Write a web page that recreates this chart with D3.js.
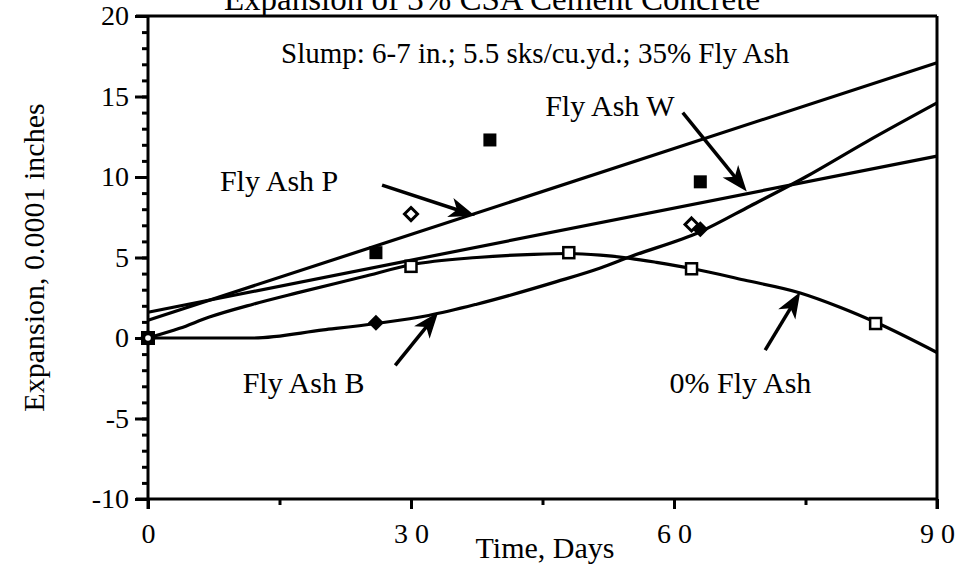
<!DOCTYPE html>
<html>
<head>
<meta charset="utf-8">
<script src="https://cdn.jsdelivr.net/npm/d3@7"></script>
<style>
  html, body { margin: 0; padding: 0; background: #fff; }
  svg { display: block; }
  text { font-family: "Liberation Serif", "Times New Roman", serif; fill: #000; }
</style>
</head>
<body>
<svg id="chart" width="955" height="569"></svg>
<script>
// ---- data -------------------------------------------------------------
const titleText = "Expansion of 3% CSA Cement Concrete";
const noteText = "Slump: 6-7 in.; 5.5 sks/cu.yd.; 35% Fly Ash";
const xLabel = "Time, Days";
const yLabel = "Expansion, 0.0001 inches";

const xTicks = [0, 30, 60, 90];
const xTickLabels = ["0", "3 0", "6 0", "9 0"];
const xMinorTicks = [15, 45, 75];
const yTicks = [-10, -5, 0, 5, 10, 15, 20];
const yTickLabels = ["-10", "-5", "0", "5", "10", "15", "20"];
const yMinorTicks = d3.range(-10, 21, 1);

// measured points (days, expansion)
const flyAshPDays = [0, 26, 39, 63];
const flyAshPValues = [0, 5.3, 12.3, 9.7];
const flyAshWDays = [0, 30, 62];
const flyAshWValues = [0, 7.7, 7.05];
const flyAshBDays = [0, 26, 63];
const flyAshBValues = [0, 0.95, 6.75];
const noAshDays = [0, 30, 48, 62, 83];
const noAshValues = [0, 4.45, 5.3, 4.3, 0.9];

// trend lines
const flyAshPLineDays = [0, 90];
const flyAshPLineValues = [1.1, 17.1];
const flyAshWLineDays = [0, 90];
const flyAshWLineValues = [1.6, 11.3];
const flyAshBCurveDays = [0, 12, 20, 26, 32, 37.5, 46.6, 51.6, 55, 63, 68.7, 75, 82, 90];
const flyAshBCurveValues = [0, 0, 0.5, 0.9, 1.4, 2.1, 3.5, 4.35, 5.05, 6.6, 8.2, 10.0, 12.2, 14.6];
const noAshCurveDays = [0, 3.6, 7, 12, 17, 24.5, 30, 37.5, 44, 48, 51.6, 55, 58, 62.2, 68, 74.4, 79, 83.2, 90];
const noAshCurveValues = [0, 0.6, 1.3, 2.1, 2.8, 3.8, 4.55, 5.0, 5.2, 5.25, 5.15, 4.95, 4.7, 4.3, 3.6, 2.8, 1.9, 0.93, -0.9];

// callouts: label, text anchor (days, value), arrow tail and tip (days, value)
const calloutLabels = ["Fly Ash P", "Fly Ash W", "Fly Ash B", "0% Fly Ash"];
const calloutTextAt = [[8.2, 9.1], [45.3, 13.8], [10.8, -3.4], [59.5, -3.4]];
const calloutTails = [[26.7, 9.5], [61.0, 14.0], [28.2, -1.7], [70.4, -0.75]];
const calloutTips = [[37.3, 7.6], [68.3, 9.1], [33.1, 1.6], [74.4, 2.85]];

// ---- layout -----------------------------------------------------------
const svg = d3.select("#chart");
const x = d3.scaleLinear().domain([0, 90]).range([148, 937]);
const y = d3.scaleLinear().domain([-10, 20]).range([499, 16]);
const zip = (a, b) => a.map((d, i) => [d, b[i]]);
const FONT = "Liberation Serif";

// frame (top and right)
const g = svg.append("g");
g.append("line").attr("x1", x(0) - 12).attr("x2", x(90)).attr("y1", y(20)).attr("y2", y(20))
  .attr("stroke", "#000").attr("stroke-width", 3);
g.append("line").attr("x1", x(90)).attr("x2", x(90)).attr("y1", y(20)).attr("y2", y(-10) + 10)
  .attr("stroke", "#000").attr("stroke-width", 3);

// y axis: minor then major
const yMinor = d3.axisLeft(y).tickValues(yMinorTicks).tickSize(6).tickFormat("");
const yMajor = d3.axisLeft(y).tickValues(yTicks).tickSize(13).tickPadding(6)
  .tickFormat((d, i) => yTickLabels[i]);
[yMinor, yMajor].forEach(ax => {
  const a = svg.append("g").attr("transform", `translate(${x(0)},0)`).call(ax);
  a.select(".domain").remove();
  a.selectAll("line").attr("stroke", "#000").attr("stroke-width", 3);
});
svg.append("line").attr("x1", x(0)).attr("x2", x(0)).attr("y1", y(20)).attr("y2", y(-10) + 10)
  .attr("stroke", "#000").attr("stroke-width", 3);

// x axis: minor then major
const xMinor = d3.axisBottom(x).tickValues(xMinorTicks).tickSize(6).tickFormat("");
const xMajor = d3.axisBottom(x).tickValues(xTicks).tickSize(10).tickPadding(14)
  .tickFormat((d, i) => xTickLabels[i]);
[xMinor, xMajor].forEach(ax => {
  const a = svg.append("g").attr("transform", `translate(0,${y(-10)})`).call(ax);
  a.select(".domain").remove();
  a.selectAll("line").attr("stroke", "#000").attr("stroke-width", 3);
});
svg.append("line").attr("x1", x(0) - 12).attr("x2", x(90)).attr("y1", y(-10)).attr("y2", y(-10))
  .attr("stroke", "#000").attr("stroke-width", 3);

svg.selectAll(".tick text").attr("font-size", 28).attr("font-family", FONT).attr("fill", "#000");

// axis titles
svg.append("text").attr("x", 545).attr("y", 558).attr("text-anchor", "middle")
  .attr("font-size", 30).text(xLabel);
svg.append("text").attr("transform", `translate(44,${(y(20) + y(-10)) / 2}) rotate(-90)`)
  .attr("text-anchor", "middle").attr("font-size", 30).text(yLabel);

// title (runs off the top edge)
svg.append("text").attr("x", 492).attr("y", 10).attr("text-anchor", "middle")
  .attr("font-size", 33).text(titleText);

// note
svg.append("text").attr("x", 281).attr("y", 63).attr("font-size", 29).text(noteText);

// ---- lines ------------------------------------------------------------
const line = d3.line().x(d => x(d[0])).y(d => y(d[1]));
const smooth = d3.line().x(d => x(d[0])).y(d => y(d[1])).curve(d3.curveMonotoneX);
const lines = svg.append("g").attr("fill", "none").attr("stroke", "#000").attr("stroke-width", 3.2)
  .attr("stroke-linejoin", "round");
lines.append("path").attr("d", line(zip(flyAshPLineDays, flyAshPLineValues)));
lines.append("path").attr("d", line(zip(flyAshWLineDays, flyAshWLineValues)));
lines.append("path").attr("d", smooth(zip(flyAshBCurveDays, flyAshBCurveValues)));
lines.append("path").attr("d", smooth(zip(noAshCurveDays, noAshCurveValues)));

// ---- markers ----------------------------------------------------------
const pts = svg.append("g");
const sq = 11, dm = 8;
pts.selectAll(".nosq").data(zip(noAshDays, noAshValues)).join("rect")
  .attr("x", d => x(d[0]) - sq / 2).attr("y", d => y(d[1]) - sq / 2)
  .attr("width", sq).attr("height", sq).attr("fill", "#fff").attr("stroke", "#000").attr("stroke-width", 2.5);
pts.selectAll(".psq").data(zip(flyAshPDays, flyAshPValues)).join("rect")
  .attr("x", d => x(d[0]) - 6.5).attr("y", d => y(d[1]) - 6.5)
  .attr("width", 13).attr("height", 13).attr("fill", "#000")
  .attr("opacity", (d, i) => i === 0 ? 0 : 1);
const diamond = d => `M${x(d[0])},${y(d[1]) - dm}L${x(d[0]) + dm},${y(d[1])}L${x(d[0])},${y(d[1]) + dm}L${x(d[0]) - dm},${y(d[1])}Z`;
pts.selectAll(".bdm").data(zip(flyAshBDays, flyAshBValues).slice(1)).join("path")
  .attr("d", diamond).attr("fill", "#000");
pts.selectAll(".wdm").data(zip(flyAshWDays, flyAshWValues)).join("path")
  .attr("d", d => {
    const s = dm - 1.5;
    return `M${x(d[0])},${y(d[1]) - s}L${x(d[0]) + s},${y(d[1])}L${x(d[0])},${y(d[1]) + s}L${x(d[0]) - s},${y(d[1])}Z`;
  })
  .attr("fill", "#fff").attr("stroke", "#000").attr("stroke-width", 3);
// origin marker where all four series meet
pts.append("rect").attr("x", x(0) - 7).attr("y", y(0) - 7).attr("width", 14).attr("height", 14)
  .attr("fill", "#000");
pts.append("circle").attr("cx", x(0)).attr("cy", y(0)).attr("r", 2.8).attr("fill", "#fff");

// ---- callouts ---------------------------------------------------------
const ann = svg.append("g");
calloutLabels.forEach((lab, i) => {
  ann.append("text").attr("x", x(calloutTextAt[i][0])).attr("y", y(calloutTextAt[i][1]))
    .attr("font-size", 30).text(lab);
  const x0 = x(calloutTails[i][0]), y0 = y(calloutTails[i][1]);
  const x1 = x(calloutTips[i][0]), y1 = y(calloutTips[i][1]);
  const ang = Math.atan2(y1 - y0, x1 - x0) * 180 / Math.PI;
  const len = Math.hypot(x1 - x0, y1 - y0);
  const a = ann.append("g").attr("transform", `translate(${x0},${y0}) rotate(${ang})`);
  a.append("line").attr("x1", 0).attr("y1", 0).attr("x2", len - 14).attr("y2", 0)
    .attr("stroke", "#000").attr("stroke-width", 3.5);
  a.append("path").attr("d", `M${len},0L${len - 26},-10L${len - 19},0L${len - 26},10Z`).attr("fill", "#000");
});
</script>
</body>
</html>
